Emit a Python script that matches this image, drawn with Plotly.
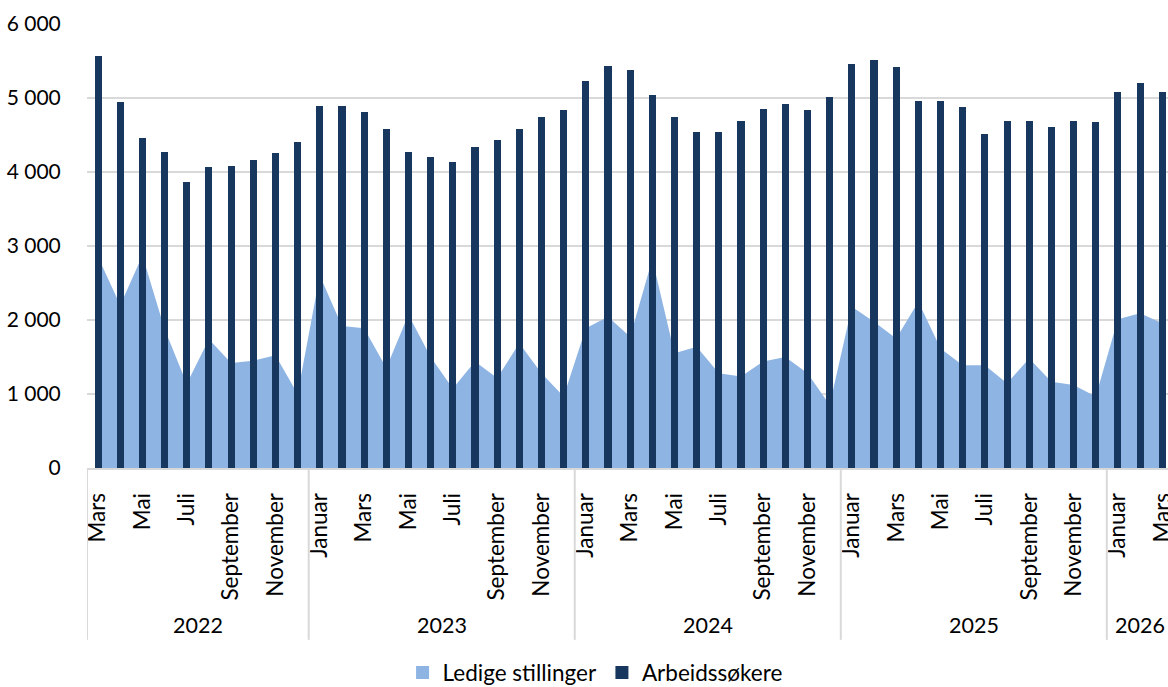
import plotly.graph_objects as go

# Månedsnavn og perioder (mars 2022 – mars 2026)
month_names = ["Januar", "Februar", "Mars", "April", "Mai", "Juni", "Juli",
               "August", "September", "Oktober", "November", "Desember"]
year_labels = ["2022", "2023", "2024", "2025", "2026"]
months_in_year = [10, 12, 12, 12, 3]   # antall måneder per år i perioden
first_month = 3                        # første måned: mars 2022

# Arbeidssøkere per måned
arbeidssokere = [
    5570, 4950, 4460, 4270, 3860, 4065, 4085, 4165, 4255, 4410,
    4890, 4895, 4805, 4580, 4270, 4200, 4130, 4340, 4430, 4575, 4750, 4840,
    5230, 5430, 5385, 5035, 4745, 4545, 4540, 4685, 4845, 4915, 4835, 5015,
    5465, 5510, 5415, 4960, 4965, 4880, 4520, 4695, 4695, 4605, 4690, 4680,
    5075, 5205, 5075,
]

# Ledige stillinger per måned
ledige = [
    2850, 2200, 2870, 1880, 1140, 1740, 1420, 1450, 1525, 1000,
    2600, 1920, 1890, 1350, 2070, 1500, 1075, 1440, 1215, 1685, 1280, 965,
    1890, 2045, 1775, 2820, 1550, 1640, 1280, 1235, 1440, 1500, 1280, 850,
    2180, 1975, 1750, 2245, 1615, 1390, 1390, 1145, 1480, 1165, 1120, 965,
    2010, 2090, 1955,
]

y_ticks = [0, 1000, 2000, 3000, 4000, 5000, 6000]

# Bygg månedsetiketter for hver periode
months = []
m = first_month
for n in months_in_year:
    for _ in range(n):
        months.append(month_names[m - 1])
        m = m % 12 + 1
x = list(range(len(months)))

FONT = "Lato"
GRID = "#d9d9d9"
LIGHT = "#8eb4e3"
DARK = "#17375e"

fig = go.Figure()

# Flate: ledige stillinger
fig.add_trace(go.Scatter(
    x=x, y=ledige, mode="lines", fill="tozeroy",
    line=dict(width=0, color=LIGHT), fillcolor=LIGHT,
    showlegend=False, hoverinfo="x+y",
))

# Søyler: arbeidssøkere (på overliggende akse slik at de tegnes over flaten)
fig.add_trace(go.Bar(
    x=x, y=arbeidssokere, width=0.32, marker=dict(color=DARK, line=dict(width=0)),
    xaxis="x2", yaxis="y2", showlegend=False,
))

# Forklaring
fig.add_trace(go.Scatter(
    x=[None], y=[None], mode="markers", name="Ledige stillinger",
    marker=dict(symbol="square", size=13, color=LIGHT),
))
fig.add_trace(go.Scatter(
    x=[None], y=[None], mode="markers", name="Arbeidssøkere",
    marker=dict(symbol="square", size=13, color=DARK),
))

x_range = [-0.5, 48.26]
y_range = [0, 6000]

tick_idx = x[::2]
fig.update_layout(
    width=1168, height=687,
    margin=dict(l=87, r=0, t=24, b=219, autoexpand=False),
    paper_bgcolor="white", plot_bgcolor="white",
    font=dict(family=FONT, size=21, color="black"),
    separators=", ",
    bargap=0,
    xaxis=dict(
        range=x_range, tickmode="array", tickvals=tick_idx,
        ticktext=[months[i] for i in tick_idx], tickangle=-90,
        ticks="outside", ticklen=14, tickcolor="rgba(0,0,0,0)",
        ticklabeloverflow="allow",
        showgrid=False, zeroline=False,
        showline=True, linecolor=GRID, linewidth=2,
        tickfont=dict(family=FONT, size=22.5, color="black"),
        automargin=False,
    ),
    yaxis=dict(
        range=y_range, tickmode="array", tickvals=y_ticks,
        tickformat=",d", showgrid=True, gridcolor=GRID, gridwidth=1.5,
        zeroline=False, showline=False,
        ticks="outside", ticklen=21, tickcolor="rgba(0,0,0,0)",
        tickfont=dict(family=FONT, size=21, color="black"),
        automargin=False,
    ),
    xaxis2=dict(range=x_range, overlaying="x", visible=False),
    yaxis2=dict(range=y_range, overlaying="y", visible=False),
    legend=dict(
        orientation="h", x=0.47, xanchor="center", y=-0.4617, yanchor="middle",
        font=dict(family=FONT, size=22.5, color="black"),
        itemwidth=30, bgcolor="rgba(0,0,0,0)",
    ),
)

# Årsinndeling under aksen: skillelinjer og årstall
shapes = []
annotations = []
start = 0
for label, n in zip(year_labels, months_in_year):
    shapes.append(dict(
        type="line", xref="x", yref="paper",
        x0=start - 0.5, x1=start - 0.5, y0=0, y1=-0.387,
        line=dict(color=GRID, width=2),
    ))
    annotations.append(dict(
        text=label, xref="x", yref="paper",
        x=start + (n - 1) / 2, y=-0.3536, yanchor="middle",
        showarrow=False, font=dict(family=FONT, size=21.5, color="black"),
    ))
    start += n
fig.update_layout(shapes=shapes, annotations=annotations)

fig.write_html("out.html")
